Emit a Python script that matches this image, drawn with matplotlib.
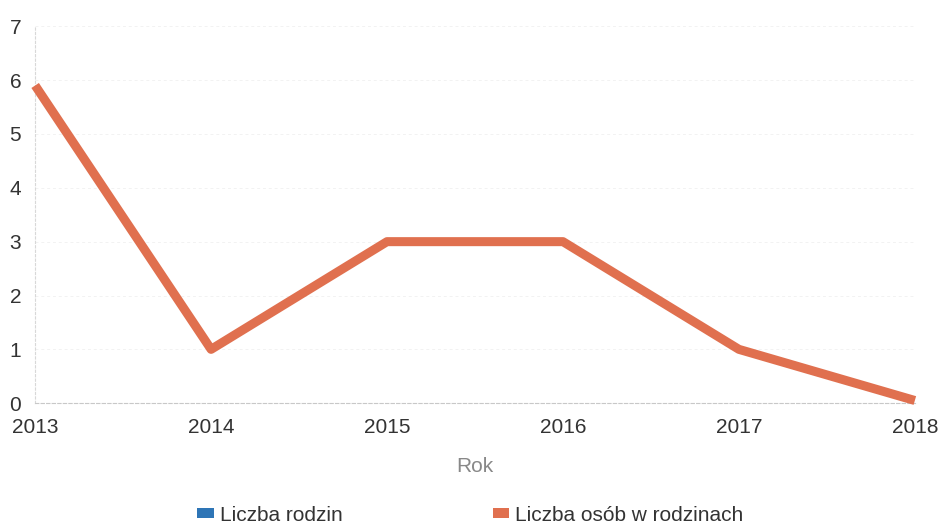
import matplotlib.pyplot as plt
from matplotlib.patches import Patch

plt.rcParams['font.family'] = ['Liberation Sans', 'DejaVu Sans']

years = [2013, 2014, 2015, 2016, 2017, 2018]
osoby = [5.9, 1, 3, 3, 1, 0.05]
series_names = ["Liczba rodzin", "Liczba osób w rodzinach"]
series_colors = ["#2e75b6", "#e0704f"]

fig = plt.figure(figsize=(9.5, 5.25), dpi=100)
ax = fig.add_axes([0.037, 0.232, 0.926, 0.718])

ax.plot(years, osoby, color=series_colors[1], linewidth=6.5, solid_joinstyle='round',
        solid_capstyle='butt', clip_on=False, zorder=3)

ax.set_xlim(2013, 2018)
ax.set_ylim(0, 7)
ax.set_yticks(range(0, 8))
ax.set_xticks(years)

for s in ['top', 'right']:
    ax.spines[s].set_visible(False)
ax.spines['left'].set_color('#d8d8d8')
ax.spines['left'].set_linestyle((0, (2, 2)))
ax.spines['left'].set_linewidth(0.8)
ax.spines['bottom'].set_color('#c8c8c8')
ax.spines['bottom'].set_linestyle((0, (3, 2)))
ax.spines['bottom'].set_linewidth(0.8)

ax.grid(axis='y', color='#f2f2f2', linestyle=(0, (3, 3)), linewidth=0.7)
ax.tick_params(length=0, labelsize=15, labelcolor='#333333')
ax.tick_params(axis='y', pad=10)
ax.tick_params(axis='x', pad=11)

ax.set_xlabel("Rok", fontsize=15, color='#888888', labelpad=14)

handles = [Patch(facecolor=c, edgecolor='none') for c in series_colors]
fig.legend(handles, series_names, loc='lower center', bbox_to_anchor=(0.495, -0.035),
           ncol=2, frameon=False, fontsize=15, handlelength=0.8, handleheight=0.4,
           handletextpad=0.3, columnspacing=7.2, labelcolor='#333333')

fig.savefig('out.png', dpi=100)
